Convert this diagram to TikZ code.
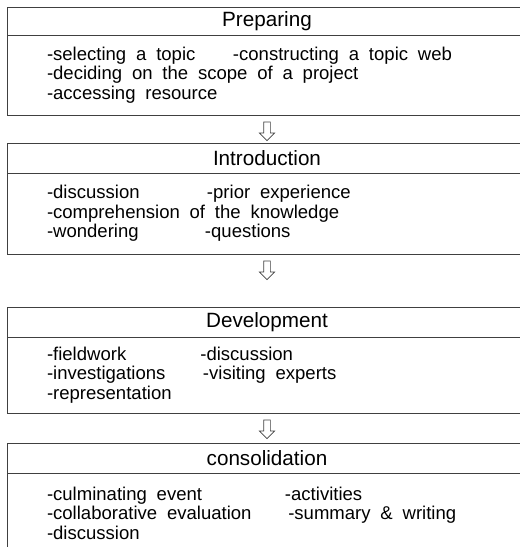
\documentclass[tikz,border=0pt]{standalone}
\usepackage{fontspec}
\setmainfont{Liberation Sans}
\usetikzlibrary{positioning,shapes.arrows}

% first column of a row with a fixed width, then the second one
\newcommand{\pair}[3]{\makebox[#1][l]{#2}#3}

\begin{document}
\begin{tikzpicture}[
	box/.style   = {draw=black!75, line width=0.7pt, outer sep=0pt, minimum width=390pt},
	head/.style  = {box, minimum height=22.5pt, inner sep=0pt, font=\fontsize{15.5}{18}\selectfont},
	body/.style  = {box, text width=330pt, inner xsep=30pt, inner ysep=0pt, minimum height=60pt, align=left,
		font=\fontsize{13.9}{14.6}\selectfont, execute at begin node={\spaceskip=0.53em plus 0.1em minus 0.05em\relax}},
	harrow/.style = {single arrow, draw=black!75, line width=0.5pt, shape border rotate=270, minimum height=14pt, minimum width=11pt, single arrow head extend=3.25pt, inner sep=2.25pt}]
	
	% the page is cut at the right and at the bottom
	\useasboundingbox (0,0) rectangle (390pt,-410.25pt);
	\clip (0,0) rectangle (390pt,-410.25pt);
	
	% first stage
	\node[head, minimum height=21pt, anchor=north] (prep) at (200.25pt,-5.25pt) {Preparing};
	\node[body, below=0pt of prep] (prepb) {\pair{139.5pt}{-selecting a topic}{-constructing a topic web}\\
		-deciding on the scope of a project\\
		-accessing resource};
	\node[harrow, below=5pt of prepb] (a1) {};
	
	% second stage
	\node[head, below=21pt of prepb] (intro) {Introduction};
	\node[body, below=0pt of intro, minimum height=60.75pt] (introb) {\pair{120pt}{-discussion}{-prior experience}\\
		-comprehension of the knowledge\\
		\pair{118.5pt}{-wondering}{-questions}};
	\node[harrow, below=5pt of introb] (a2) {};
	
	% third stage
	\node[head, below=39.75pt of introb] (dev) {Development};
	\node[body, below=0pt of dev, minimum height=57pt] (devb) {\pair{115pt}{-fieldwork}{-discussion}\\
		\pair{117pt}{-investigations}{-visiting experts}\\
		-representation};
	\node[harrow, below=5pt of devb] (a3) {};
	
	% last stage
	\node[head, below=22.5pt of devb] (cons) {consolidation};
	\node[body, below=0pt of cons] (consb) {\pair{178.5pt}{-culminating event}{-activities}\\
		\pair{181pt}{-collaborative evaluation}{-summary \& writing}\\
		-discussion};
\end{tikzpicture}
\end{document}
